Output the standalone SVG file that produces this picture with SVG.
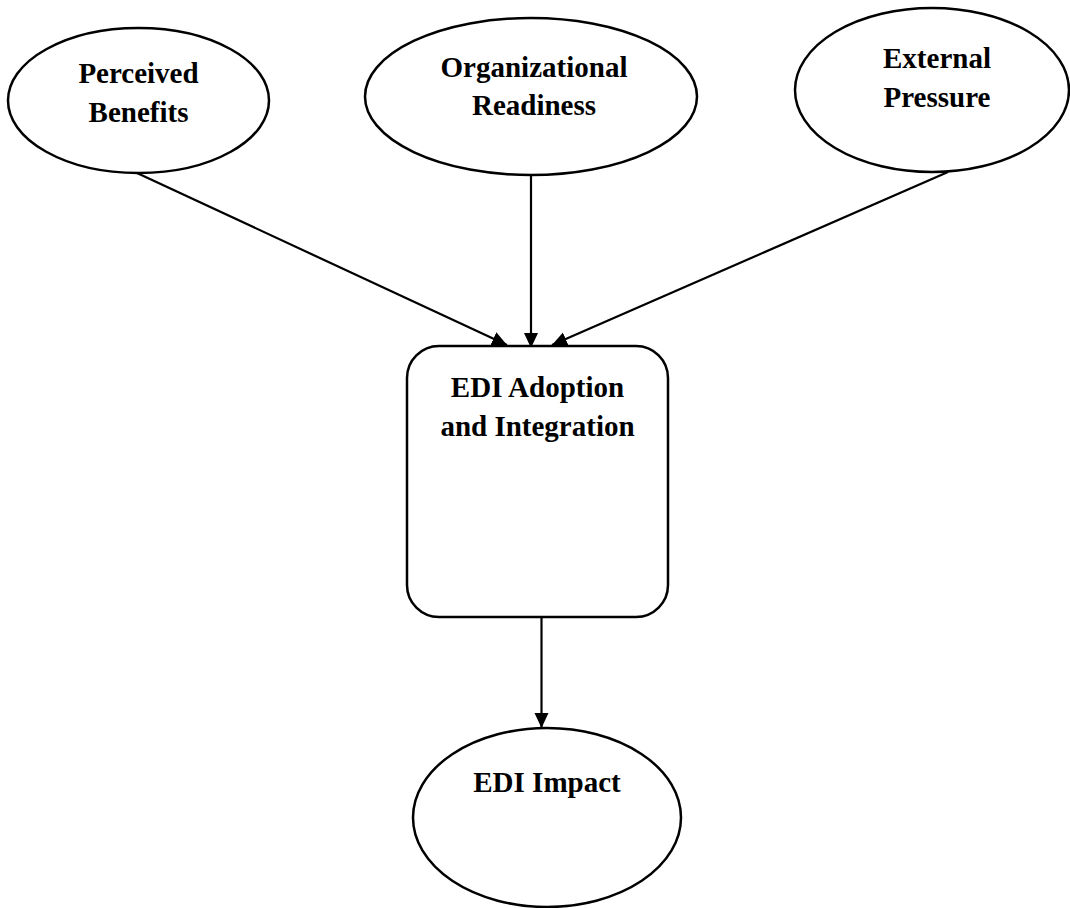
<svg xmlns="http://www.w3.org/2000/svg" width="1070" height="908" viewBox="0 0 1070 908">
  <style>
    .shape { fill: #ffffff; stroke: #000000; stroke-width: 2.5; }
    .edge { fill: none; stroke: #000000; stroke-width: 2.2; }
    .label { font-family: "Liberation Serif", "Times New Roman", serif; font-weight: bold; font-size: 29px; fill: #000000; text-anchor: middle; }
  </style>
  <defs>
    <marker id="arrow" markerUnits="userSpaceOnUse" markerWidth="17" markerHeight="16" refX="15" refY="7" orient="auto">
      <path d="M0,0 L15,7 L0,14 z" fill="#000000"/>
    </marker>
  </defs>
  <rect width="1070" height="908" fill="#ffffff"/>

  <g id="connectors">
    <line class="edge" x1="137" y1="173" x2="507" y2="345" marker-end="url(#arrow)"/>
    <line class="edge" x1="531" y1="175" x2="531" y2="348" marker-end="url(#arrow)"/>
    <line class="edge" x1="948" y1="172" x2="552" y2="345" marker-end="url(#arrow)"/>
    <line class="edge" x1="541.5" y1="617" x2="541.5" y2="728" marker-end="url(#arrow)"/>
  </g>

  <g id="perceived-benefits">
    <ellipse class="shape" cx="138.5" cy="100.5" rx="130.5" ry="72.5"/>
    <text class="label" x="138.5" y="83">Perceived</text>
    <text class="label" x="138.5" y="122">Benefits</text>
  </g>

  <g id="organizational-readiness">
    <ellipse class="shape" cx="531" cy="96.5" rx="166" ry="78.5"/>
    <text class="label" x="534" y="77">Organizational</text>
    <text class="label" x="534" y="115">Readiness</text>
  </g>

  <g id="external-pressure">
    <ellipse class="shape" cx="932" cy="90" rx="137" ry="82"/>
    <text class="label" x="937" y="68">External</text>
    <text class="label" x="937" y="107">Pressure</text>
  </g>

  <g id="edi-adoption">
    <rect class="shape" x="407" y="346" width="261" height="271" rx="32" ry="32"/>
    <text class="label" x="537.5" y="397">EDI Adoption</text>
    <text class="label" x="537.5" y="436">and Integration</text>
  </g>

  <g id="edi-impact">
    <ellipse class="shape" cx="547" cy="817.5" rx="134" ry="89.5"/>
    <text class="label" x="547" y="792">EDI Impact</text>
  </g>
</svg>
